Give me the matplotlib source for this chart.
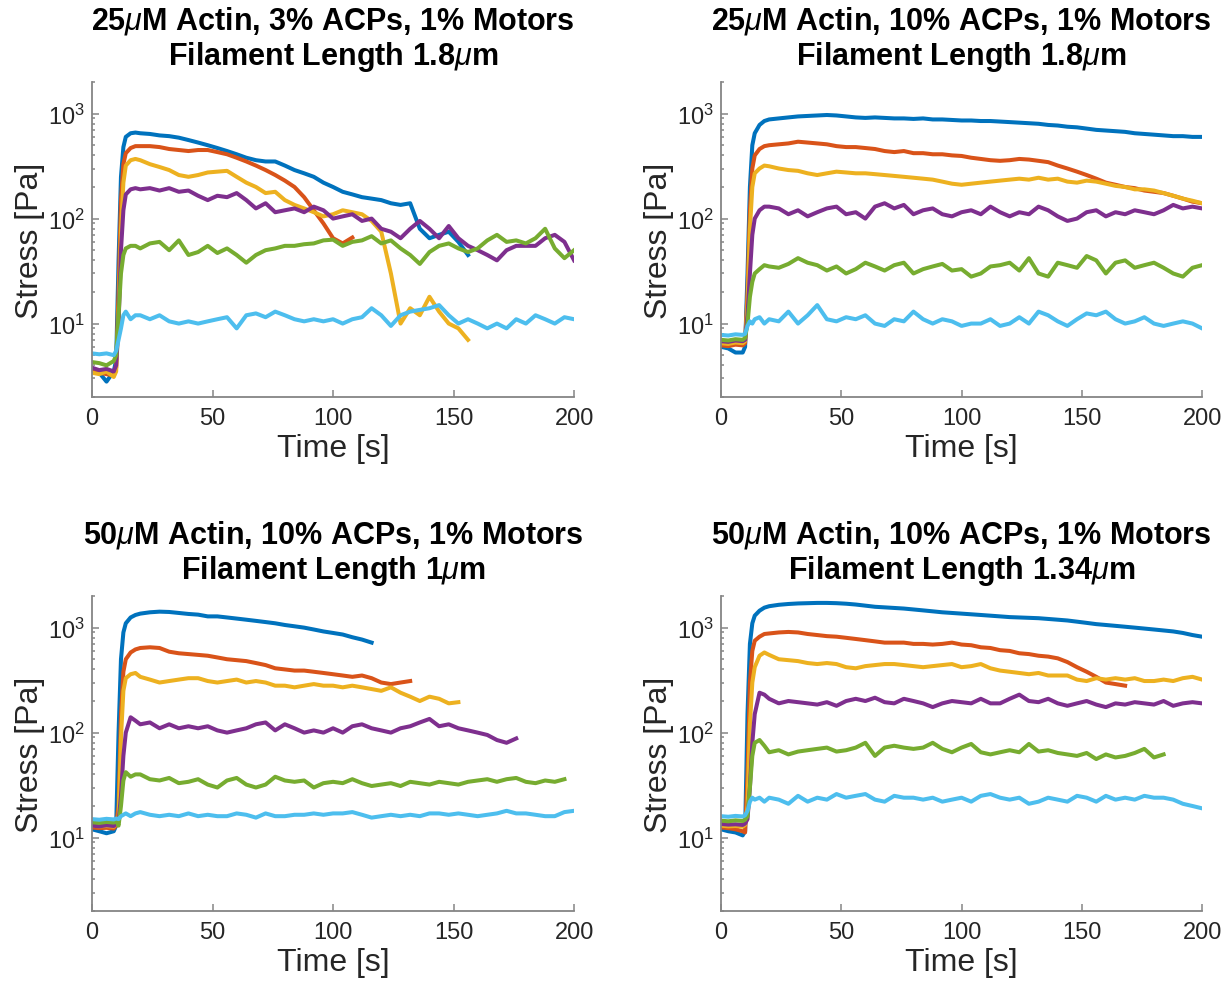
import numpy as np
import matplotlib
matplotlib.use("Agg")
import matplotlib.pyplot as plt
from matplotlib.ticker import NullFormatter, LogLocator

plt.rcParams['font.family'] = ['Liberation Sans', 'DejaVu Sans']
plt.rcParams['mathtext.fontset'] = 'custom'
plt.rcParams['mathtext.rm'] = 'Liberation Sans'
plt.rcParams['mathtext.it'] = 'Liberation Sans:italic'
plt.rcParams['mathtext.bf'] = 'Liberation Sans:bold'

# sampling times [s]: dense around the motor switch-on at 10 s
t_start = [0, 3, 6, 9, 10, 11, 12, 13, 14, 16, 18]
t = np.array(t_start + list(range(20, 201, 4)))

# 25uM actin, 3% ACPs, L = 1.8um
tl_blue = [3.6, 3.4, 2.8, 3.5, 4.5, 40, 250, 480, 600, 650, 660,
           650, 640, 620, 610, 590, 560, 530, 500, 470, 440,
           410, 380, 360, 350, 350, 320, 290, 270, 250, 220,
           200, 180, 170, 160, 155, 150, 140, 135, 140, 80,
           65, 70, 75, 60, 45]
tl_orange = [3.5, 3.4, 3.3, 3.2, 3.8, 20, 150, 330, 420, 470, 490,
             490, 490, 480, 460, 450, 440, 450, 450, 430, 410,
             380, 350, 320, 290, 260, 230, 200, 160, 120, 90,
             65, 58, 66]
tl_yellow = [3.4, 3.3, 3.5, 3.1, 3.5, 12, 80, 220, 320, 360, 370,
             360, 330, 310, 290, 260, 250, 260, 275, 280, 285,
             250, 220, 200, 175, 180, 150, 135, 125, 115, 105,
             110, 120, 115, 110, 95, 75, 30, 10, 14, 12,
             18, 13, 10, 9, 7]
tl_purple = [3.8, 3.6, 3.7, 3.5, 4.0, 10, 50, 120, 170, 190, 195,
             190, 195, 185, 195, 180, 185, 165, 150, 165, 160,
             175, 150, 125, 140, 115, 120, 125, 115, 130, 120,
             100, 105, 110, 95, 100, 80, 75, 65, 80, 95,
             80, 65, 85, 65, 55, 50, 45, 40, 50, 55,
             55, 55, 65, 70, 60, 40]
tl_green = [4.3, 4.2, 4.0, 4.4, 5, 12, 30, 45, 52, 55, 55,
            52, 58, 60, 50, 62, 45, 48, 55, 47, 52,
            45, 38, 45, 50, 52, 55, 55, 57, 58, 62,
            63, 55, 60, 62, 68, 58, 62, 52, 45, 37,
            48, 55, 58, 52, 48, 52, 62, 70, 60, 62,
            58, 65, 80, 52, 42, 50]
tl_cyan = [5.2, 5.1, 5.2, 5.0, 5.5, 7, 9, 12, 13, 11, 12,
           12, 11, 12, 10.5, 10, 10.5, 10, 10.5, 11, 11.5,
           9, 12, 12.5, 11.5, 13, 12, 11, 10.5, 11, 10.5,
           11, 10, 11, 11.5, 14, 12, 9.5, 12, 13, 13.5,
           14, 15, 12, 10, 11, 10, 9, 10, 9, 11,
           10, 12, 11, 10, 11.5, 11]

# 25uM actin, 10% ACPs, L = 1.8um
tr_blue = [6.0, 5.8, 5.3, 5.3, 6, 30, 200, 500, 650, 780, 850,
           880, 900, 920, 940, 950, 960, 970, 960, 940, 920,
           910, 920, 910, 900, 900, 890, 900, 880, 880, 870,
           860, 860, 850, 850, 840, 830, 820, 810, 800, 780,
           770, 750, 740, 720, 700, 690, 680, 670, 650, 640,
           630, 620, 610, 610, 600, 600]
tr_orange = [6.2, 6.1, 6.3, 6.2, 6.5, 20, 120, 300, 400, 460, 490,
             500, 510, 520, 540, 530, 520, 510, 490, 480, 480,
             470, 460, 440, 430, 440, 420, 420, 410, 410, 400,
             395, 380, 370, 360, 355, 360, 370, 365, 355, 345,
             320, 300, 280, 260, 240, 220, 210, 200, 195, 185,
             180, 175, 165, 155, 145, 140]
tr_yellow = [6.5, 6.4, 6.6, 6.5, 6.8, 15, 80, 200, 270, 300, 320,
             315, 300, 290, 285, 270, 260, 270, 280, 275, 270,
             270, 265, 260, 255, 250, 245, 240, 235, 225, 215,
             210, 215, 220, 225, 230, 235, 240, 235, 245, 235,
             240, 225, 220, 230, 225, 215, 205, 200, 190, 190,
             185, 175, 165, 155, 148, 140]
tr_purple = [6.8, 6.7, 6.9, 6.8, 7, 12, 30, 70, 100, 120, 130,
             130, 125, 110, 120, 105, 115, 125, 130, 110, 115,
             100, 130, 140, 125, 135, 110, 120, 125, 110, 105,
             115, 120, 110, 130, 115, 105, 115, 110, 130, 120,
             105, 95, 100, 115, 120, 105, 115, 110, 120, 115,
             110, 120, 135, 125, 130, 125]
tr_green = [7.0, 6.9, 7.1, 7.0, 7.3, 10, 18, 25, 30, 33, 36,
            35, 34, 37, 42, 38, 36, 32, 35, 30, 33,
            38, 35, 32, 36, 38, 30, 33, 35, 37, 32,
            33, 28, 30, 35, 36, 38, 32, 42, 30, 28,
            38, 36, 34, 44, 40, 30, 38, 40, 34, 36,
            38, 34, 30, 28, 34, 36]
tr_cyan = [7.8, 7.7, 7.9, 7.8, 8, 9.5, 10.5, 10, 11, 11.5, 10,
           11, 10.5, 13, 10, 12, 15, 11, 10.5, 11.5, 11,
           12, 10, 9.5, 11, 10.5, 13, 11, 10, 11, 10.5,
           9.5, 10, 10, 11, 9.5, 10, 11.5, 10, 13, 12,
           10.5, 9.5, 11, 12.5, 12, 13, 11, 10, 10.5, 11.5,
           10, 9.5, 10, 10.5, 10, 9]

# 50uM actin, 10% ACPs, L = 1um
bl_blue = [12, 11.5, 11, 11.5, 13, 100, 500, 900, 1100, 1250, 1320,
           1360, 1400, 1420, 1410, 1380, 1350, 1330, 1280, 1280, 1250,
           1220, 1190, 1160, 1130, 1100, 1060, 1030, 1000, 960, 920,
           890, 860, 810, 770, 720]
bl_orange = [12.5, 12.3, 12.4, 12.2, 13, 20, 150, 380, 500, 580, 620,
             640, 650, 640, 590, 570, 560, 550, 540, 520, 500,
             490, 480, 460, 440, 410, 400, 390, 390, 380, 370,
             360, 350, 340, 350, 330, 300, 290, 300, 310]
bl_yellow = [13, 12.8, 12.9, 12.7, 13.5, 15, 90, 250, 330, 360, 370,
             340, 320, 300, 310, 320, 330, 330, 310, 300, 310,
             320, 300, 310, 300, 280, 280, 270, 280, 290, 280,
             280, 270, 280, 270, 260, 250, 270, 240, 220, 200,
             220, 210, 190, 195]
bl_purple = [13, 12.8, 13.1, 12.9, 13.5, 14, 25, 60, 100, 140, 130,
             120, 125, 110, 120, 110, 115, 110, 115, 105, 100,
             105, 110, 120, 125, 105, 120, 110, 100, 105, 100,
             110, 100, 115, 120, 110, 105, 100, 110, 115, 125,
             135, 115, 120, 110, 105, 100, 95, 85, 80, 88]
bl_green = [14, 13.8, 14.1, 13.9, 14.5, 13, 20, 35, 42, 38, 40,
            40, 36, 35, 37, 33, 34, 36, 32, 30, 35,
            37, 32, 30, 32, 38, 35, 34, 35, 30, 33,
            34, 33, 36, 33, 31, 32, 33, 31, 34, 33,
            32, 34, 33, 32, 34, 35, 36, 34, 36, 37,
            34, 33, 35, 34, 36]
bl_cyan = [15, 14.8, 15.1, 14.9, 15.2, 15, 16, 16.5, 17, 16, 17,
           17.5, 16.5, 16, 16.5, 16, 17, 16, 16.5, 16, 16,
           17, 16.5, 15.5, 17, 16, 16, 16.5, 16.5, 17, 16.5,
           17, 17, 17.5, 16.5, 15.5, 16, 16.5, 16, 16.5, 16,
           17, 17, 16.5, 17, 16.5, 16, 16.5, 17, 18, 17,
           17, 16.5, 16, 16, 17.5, 18]

# 50uM actin, 10% ACPs, L = 1.34um
br_blue = [12, 11.5, 11.2, 10.5, 11.5, 150, 700, 1100, 1300, 1450, 1550,
           1600, 1650, 1680, 1700, 1710, 1720, 1720, 1710, 1690, 1660,
           1620, 1580, 1560, 1540, 1520, 1490, 1460, 1430, 1400, 1380,
           1360, 1340, 1320, 1300, 1280, 1260, 1250, 1240, 1230, 1210,
           1190, 1170, 1140, 1110, 1080, 1060, 1040, 1020, 1000, 980,
           960, 940, 920, 890, 850, 820]
br_orange = [12.5, 12.3, 12.0, 11.5, 11.2, 40, 300, 600, 750, 820, 870,
             880, 900, 910, 900, 870, 850, 830, 820, 800, 780,
             760, 740, 720, 720, 720, 700, 700, 690, 700, 720,
             690, 680, 650, 640, 610, 600, 570, 560, 540, 530,
             510, 470, 420, 380, 340, 300, 290, 280]
br_yellow = [13, 12.8, 12.9, 12.7, 13.2, 20, 120, 300, 420, 540, 580,
             550, 500, 490, 480, 460, 450, 460, 450, 420, 410,
             430, 440, 450, 450, 440, 430, 420, 430, 440, 450,
             420, 430, 450, 410, 390, 380, 370, 360, 370, 350,
             350, 350, 320, 310, 330, 320, 330, 320, 330, 310,
             310, 320, 310, 330, 340, 320]
br_purple = [13.5, 13.3, 13.4, 13.2, 13.6, 15, 30, 80, 150, 240, 230,
             210, 190, 200, 195, 190, 185, 195, 180, 200, 210,
             200, 215, 195, 190, 210, 200, 190, 175, 190, 200,
             195, 190, 210, 190, 190, 210, 230, 200, 195, 210,
             190, 180, 190, 200, 185, 175, 190, 185, 195, 190,
             185, 200, 180, 190, 195, 190]
br_green = [14.5, 14.3, 14.6, 14.4, 14.8, 16, 30, 60, 80, 85, 75,
            65, 68, 62, 66, 68, 70, 72, 66, 68, 72,
            80, 60, 72, 75, 72, 70, 72, 80, 70, 65,
            72, 78, 65, 62, 65, 68, 65, 78, 66, 68,
            64, 62, 60, 64, 56, 62, 58, 60, 64, 70,
            58, 62]
br_cyan = [16, 15.8, 16.1, 15.9, 16.3, 18, 22, 24, 23, 24, 22,
           24, 23, 21, 25, 22, 24, 23, 26, 24, 25,
           26, 23, 22, 25, 24, 24, 23, 24, 22, 23,
           24, 22, 25, 26, 24, 23, 24, 21, 22, 24,
           23, 22, 25, 24, 22, 25, 23, 24, 23, 25,
           24, 24, 23, 21, 20, 19]

titles = [r'25$\mu$M Actin, 3% ACPs, 1% Motors' + '\n' + r'Filament Length 1.8$\mu$m',
          r'25$\mu$M Actin, 10% ACPs, 1% Motors' + '\n' + r'Filament Length 1.8$\mu$m',
          r'50$\mu$M Actin, 10% ACPs, 1% Motors' + '\n' + r'Filament Length 1$\mu$m',
          r'50$\mu$M Actin, 10% ACPs, 1% Motors' + '\n' + r'Filament Length 1.34$\mu$m']

panels = [[tl_blue, tl_orange, tl_yellow, tl_purple, tl_green, tl_cyan],
          [tr_blue, tr_orange, tr_yellow, tr_purple, tr_green, tr_cyan],
          [bl_blue, bl_orange, bl_yellow, bl_purple, bl_green, bl_cyan],
          [br_blue, br_orange, br_yellow, br_purple, br_green, br_cyan]]

colors = ['#0072BD', '#D95319', '#EDB120', '#7E2F8E', '#77AC30', '#4DBEEE']

axis_grey = '#858585'
text_dark = '#262626'

fig = plt.figure(figsize=(12.29, 9.87), dpi=100)
boxes = [[0.0749, 0.5968, 0.3922, 0.3191],
         [0.5867, 0.5968, 0.3914, 0.3191],
         [0.0749, 0.0760, 0.3922, 0.3191],
         [0.5867, 0.0760, 0.3914, 0.3191]]

for box, series, title in zip(boxes, panels, titles):
    ax = fig.add_axes(box)
    for y, c in zip(series, colors):
        ax.plot(t[:len(y)], y, color=c, lw=2.9, solid_joinstyle='round')
    ax.set_yscale('log')
    ax.set_xlim(0, 200)
    ax.set_ylim(2, 2000)
    ax.set_xticks([0, 50, 100, 150, 200])
    ax.yaxis.set_major_locator(LogLocator(base=10, subs=[1.0]))
    ax.yaxis.set_minor_locator(LogLocator(base=10, subs=np.arange(2, 10)))
    ax.yaxis.set_minor_formatter(NullFormatter())
    for side in ['top', 'right']:
        ax.spines[side].set_visible(False)
    for side in ['left', 'bottom']:
        ax.spines[side].set_color(axis_grey)
        ax.spines[side].set_linewidth(1.3)
    ax.tick_params(which='both', direction='in', color=axis_grey, width=1.1,
                   labelsize=17, labelcolor=text_dark)
    ax.tick_params(axis='x', pad=7)
    ax.tick_params(axis='y', pad=5)
    ax.tick_params(which='major', length=5)
    ax.tick_params(which='minor', length=2.5)
    ax.set_xlabel('Time [s]', fontsize=23, color=text_dark, labelpad=3)
    ax.set_ylabel('Stress [Pa]', fontsize=23, color=text_dark, labelpad=2)
    ax.set_title(title, fontsize=22, fontweight='bold', color='black',
                 pad=13, linespacing=1.12)

fig.savefig('out.png', dpi=100)
